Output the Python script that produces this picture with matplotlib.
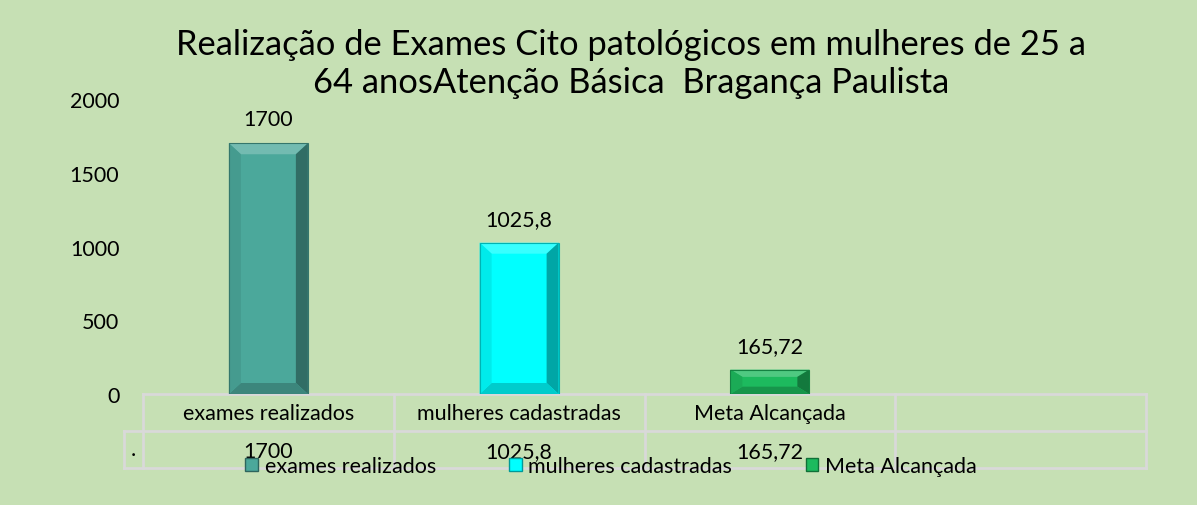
import numpy as np
import matplotlib.pyplot as plt
from matplotlib.patches import Polygon, Patch
from matplotlib.lines import Line2D
import matplotlib.colors as mcolors

plt.rcParams['font.family'] = ['Lato', 'DejaVu Sans']

#### data
categorias = ['exames realizados', 'mulheres cadastradas', 'Meta Alcançada', '']
valores = [1700, 1025.8, 165.72]
rotulos = ['1700', '1025,8', '165,72']
cores = ['#4BA89B', '#00FFFF', '#1DBA5E']
titulo = 'Realização de Exames Cito patológicos em mulheres de 25 a\n64 anosAtenção Básica  Bragança Paulista'
yticks = [0, 500, 1000, 1500, 2000]

fundo = '#C6E0B4'
fs = 15.5
W, H = 1197, 506
fig = plt.figure(figsize=(W / 100, H / 100), dpi=100, facecolor=fundo)
ax = fig.add_axes([143 / W, 1 - 395 / H, (1146 - 143) / W, (395 - 100) / H])
ax.set_facecolor(fundo)
ax.set_xlim(-0.5, 3.5)
ax.set_ylim(0, 2000)
ax.set_yticks(yticks)
ax.tick_params(axis='y', length=0, pad=17, labelsize=fs)
ax.set_xticks([])
for s in ax.spines.values():
    s.set_visible(False)

#### bars with a bevel look
larg = 0.315
x = np.arange(len(valores))
bars = ax.bar(x, valores, width=larg, color=cores, edgecolor='none', zorder=2)

def tom(c, f):
    r = np.array(mcolors.to_rgb(c))
    if f > 0:
        r = r + (1 - r) * f
    else:
        r = r * (1 + f)
    return np.clip(r, 0, 1)

# bevel size in data units (pixels -> data)
px_x = 1.0 / (1146 - 143) * 4
px_y = 2000 / 295.0
for b, c in zip(bars, cores):
    x0, x1 = b.get_x(), b.get_x() + b.get_width()
    y1 = b.get_height()
    bx = 12 * px_x
    by = min(11 * px_y, y1 * 0.3)
    # top
    ax.add_patch(Polygon([(x0, y1), (x1, y1), (x1 - bx, y1 - by), (x0 + bx, y1 - by)],
                         color=tom(c, 0.22), lw=0, zorder=3))
    # right
    ax.add_patch(Polygon([(x1, y1), (x1, 0), (x1 - bx, by), (x1 - bx, y1 - by)],
                         color=tom(c, -0.35), lw=0, zorder=3))
    # bottom
    ax.add_patch(Polygon([(x0, 0), (x1, 0), (x1 - bx, by), (x0 + bx, by)],
                         color=tom(c, -0.2), lw=0, zorder=3))
    # left
    ax.add_patch(Polygon([(x0, y1), (x0, 0), (x0 + bx, by), (x0 + bx, y1 - by)],
                         color=tom(c, -0.08), lw=0, zorder=3))
    ax.add_patch(Polygon([(x0, y1), (x1, y1), (x1, 0), (x0, 0)], fill=False,
                         edgecolor=tom(c, -0.3), lw=0.8, zorder=4))

for xi, v, r in zip(x, valores, rotulos):
    ax.annotate(r, (xi, v), xytext=(0, 10), textcoords='offset points',
                ha='center', va='bottom', fontsize=fs)

#### title
fig.text(0.527, 1 - 64 / H, titulo, ha='center', va='center', fontsize=24.8, linespacing=1.25)

#### data table below the axis
lc = '#D9D9D9'
lw = 2
ycab = -37 / 295.0
ydad = -74 / 295.0
xl = -19 / (1146 - 143)
kw = dict(transform=ax.transAxes, color=lc, lw=lw, clip_on=False, zorder=1)
ax.add_artist(Line2D([0, 1], [0, 0], **kw))
ax.add_artist(Line2D([xl, 1], [ycab, ycab], **kw))
ax.add_artist(Line2D([xl, 1], [ydad, ydad], **kw))
ax.add_artist(Line2D([xl, xl], [ycab, ydad], **kw))
for i in range(len(categorias) + 1):
    ax.add_artist(Line2D([i / 4, i / 4], [0, ydad], **kw))

for i, cat in enumerate(categorias):
    ax.text((i + 0.5) / 4, ycab / 2, cat, transform=ax.transAxes,
            ha='center', va='center', fontsize=fs)
for i, r in enumerate(rotulos):
    ax.text((i + 0.5) / 4, (ycab + ydad) / 2 - 0.004, r, transform=ax.transAxes,
            ha='center', va='center', fontsize=fs)
ax.text(xl / 2, (ycab + ydad) / 2, '.', transform=ax.transAxes,
        ha='center', va='center', fontsize=fs)

#### legend
handles = [Patch(facecolor=c, edgecolor=tom(c, -0.4), lw=1) for c in cores]
fig.legend(handles, categorias[:3], loc='center', bbox_to_anchor=(611 / W, 1 - 467 / H),
           ncol=3, frameon=False, fontsize=fs, handlelength=0.6, handleheight=0.6,
           handletextpad=0.3, columnspacing=3.4, borderpad=0)

fig.savefig('out.png', dpi=100, facecolor=fundo)
